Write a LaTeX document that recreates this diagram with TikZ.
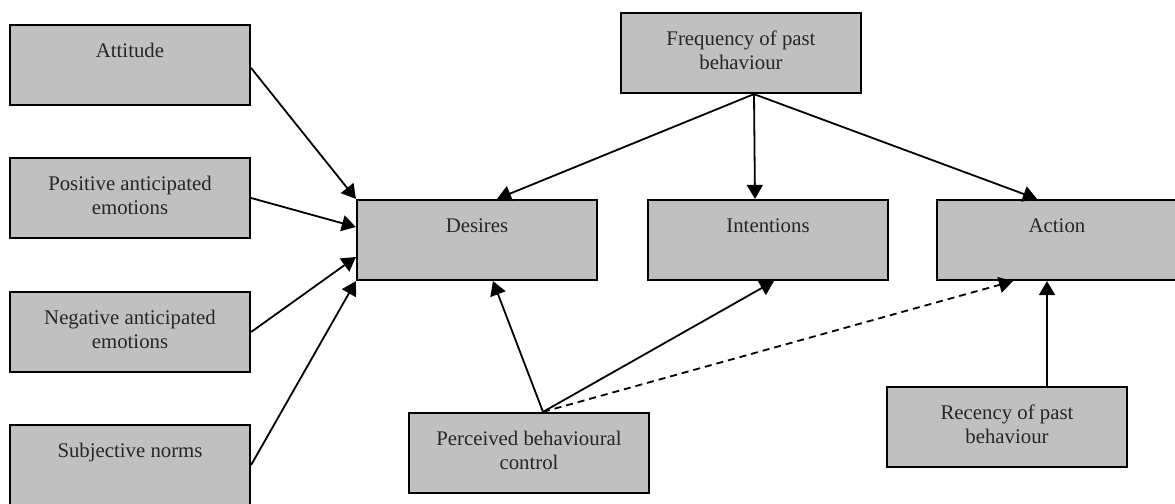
\documentclass[tikz,border=0pt]{standalone}
\usepackage{fontspec}
\setmainfont{Liberation Serif}
\usepackage{tikz}
\usetikzlibrary{arrows.meta}
\definecolor{boxgray}{RGB}{192,192,192}
\tikzset{
    %Define standard arrow tip
    >={Triangle[length=7pt,width=8pt]},
    % Define box style
    factor/.style={
           draw,
           line width=1.1pt,
           fill=boxgray,
           text=black!85,
           font=\fontsize{10.4}{12}\selectfont,
           align=center,
           minimum width=120pt,
           minimum height=40pt,
           inner ysep=5pt,
           text height=11pt,
           text depth=19pt,
           },
    % Box with two lines of text
    factortwo/.style={
           factor,
           text height=23pt,
           text depth=7pt,
           },
    % Define arrow styles
    pil/.style={
           ->,
           line width=0.9pt,
           },
    pilstreg/.style={
           ->,
           line width=0.9pt,
           dash pattern=on 3.5pt off 2.5pt,
}
}

\begin{document}
\begin{tikzpicture}[x=0.5pt,y=-0.5pt]
  	\useasboundingbox (0,0) rectangle (1175,504);
  	\node[factor] (att) at (130,65) {Attitude};
  	\node[factortwo] (pos) at (130,198) {Positive anticipated\\emotions};
  	\node[factortwo] (neg) at (130,332) {Negative anticipated\\emotions};
  	\node[factor] (sub) at (130,465) {Subjective norms};
  	\node[factor] (des) at (477,240) {Desires};
  	\node[factor] (int) at (768,240) {Intentions};
  	\node[factor] (act) at (1057,240) {Action};
  	\node[factortwo] (fre) at (741,53) {Frequency of past\\behaviour};
  	\node[factortwo] (per) at (529,453) {Perceived behavioural\\control};
  	\node[factortwo] (rec) at (1007,427) {Recency of past\\behaviour};
%  	left column into desires
  	\draw [pil] ([yshift=-1.5pt]att.east) -- (des.north west);
  	\draw [pil] (pos.east) -- ([yshift=6.5pt]des.west);
  	\draw [pil] (neg.east) -- ([yshift=-8.5pt]des.west);
  	\draw [pil] (sub.east) -- (des.south west);
%  	past behaviour
  	\draw [pil] ([xshift=6.5pt]fre.south) -- ([xshift=10pt]des.north);
  	\draw [pil] ([xshift=6.5pt]fre.south) -- ([xshift=-6.5pt]int.north);
  	\draw [pil] ([xshift=6.5pt]fre.south) -- ([xshift=-10pt]act.north);
  	\draw [pil] ([xshift=20pt]rec.north) -- ([xshift=-5pt]act.south);
%  	perceived control
  	\draw [pil] ([xshift=7pt]per.north) -- ([xshift=8pt]des.south);
  	\draw [pil] ([xshift=7pt]per.north) -- ([xshift=3pt]int.south);
  	\draw [pilstreg] ([xshift=7pt]per.north) -- ([xshift=-22pt]act.south);
\end{tikzpicture}
\end{document}
